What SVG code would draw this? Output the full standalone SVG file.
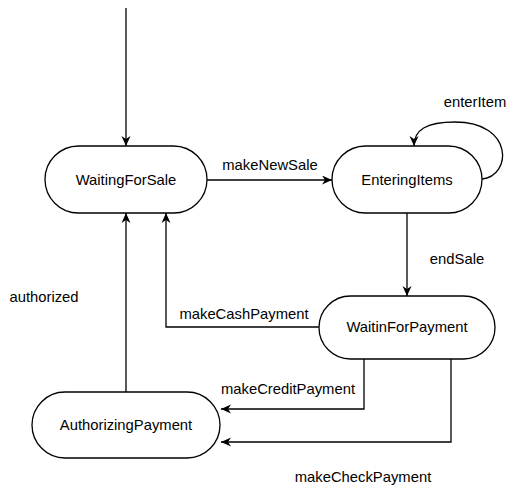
<svg xmlns="http://www.w3.org/2000/svg" width="519" height="499" viewBox="0 0 519 499">
<style>
.node{fill:#fff;stroke:#000;stroke-width:1.3}
.edge{fill:none;stroke:#000;stroke-width:1.3;marker-end:url(#arr)}
.t{font-family:"Liberation Sans",Arial,sans-serif;font-size:14.8px;fill:#000;text-anchor:middle}
</style>
<defs>
<marker id="arr" markerUnits="userSpaceOnUse" markerWidth="12" markerHeight="10" refX="10" refY="4.5" orient="auto">
<path d="M0,0 L10,4.5 L0,9 L3,4.5 z" fill="#000"/>
</marker>
</defs>
<g id="connectors">
<path class="edge" d="M126,8 L126,146"/>
<path class="edge" d="M207,180 L332,180"/>
<path class="edge" d="M482,179 C512,176 514,122 455,122 C426,122 414,130 414,146"/>
<path class="edge" d="M407,213 L407,296"/>
<path class="edge" d="M319,327 L166,327 L166,213"/>
<path class="edge" d="M364,359 L364,409 L221,409"/>
<path class="edge" d="M451,359 L451,442 L221,442"/>
<path class="edge" d="M126,392 L126,213"/>
<text class="t" x="270" y="170">makeNewSale</text>
<text class="t" x="475" y="107">enterItem</text>
<text class="t" x="457" y="264">endSale</text>
<text class="t" x="244" y="319">makeCashPayment</text>
<text class="t" x="288" y="394">makeCreditPayment</text>
<text class="t" x="363" y="482">makeCheckPayment</text>
<text class="t" x="44" y="302">authorized</text>
</g>
<g id="WaitingForSale">
<rect class="node" x="45" y="146" width="162" height="67" rx="33.5"/>
<text class="t" x="126" y="185">WaitingForSale</text>
</g>
<g id="EnteringItems">
<rect class="node" x="332" y="146" width="150" height="67" rx="33.5"/>
<text class="t" x="407" y="185">EnteringItems</text>
</g>
<g id="WaitinForPayment">
<rect class="node" x="319" y="296" width="176" height="63" rx="31.5"/>
<text class="t" x="407" y="332">WaitinForPayment</text>
</g>
<g id="AuthorizingPayment">
<rect class="node" x="32" y="392" width="188" height="66" rx="33"/>
<text class="t" x="126" y="430">AuthorizingPayment</text>
</g>
</svg>
